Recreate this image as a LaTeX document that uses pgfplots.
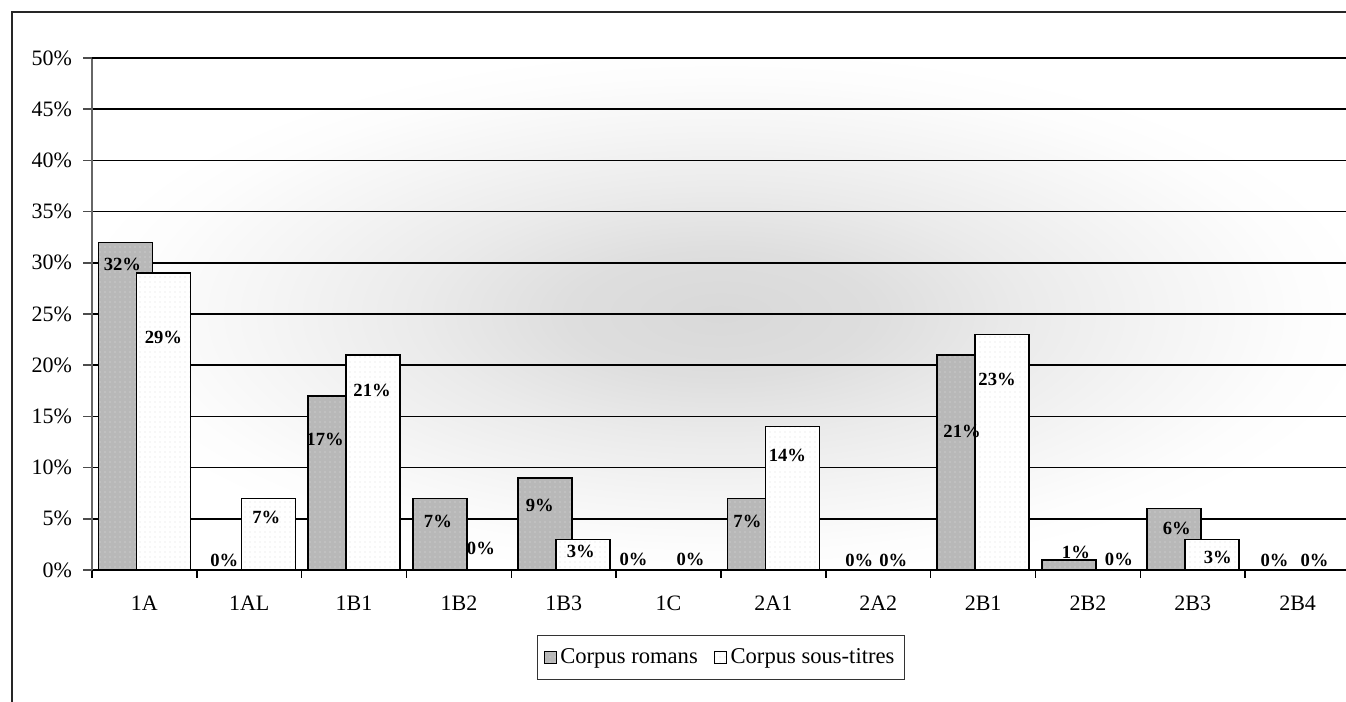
\documentclass[border=0pt]{standalone}
\usepackage{fontspec}
\setmainfont{Liberation Serif}
\usepackage{pgfplots}
\pgfplotsset{compat=1.18}
\usepackage{pgfplotstable}
\usetikzlibrary{patterns.meta}

\pgfdeclareradialshading{bgshade}{\pgfpoint{0bp}{0bp}}{color(0bp)=(black!15); color(6bp)=(black!13); color(12bp)=(black!8); color(18bp)=(black!4); color(23bp)=(black!1); color(26bp)=(white); color(50bp)=(white)}

\pgfplotstableread{
x y dx dy
0 32 -1.5 -11
1 0 -3 5
2 17 -5 -22
3 7 -1 -11.5
4 9 -2.5 -14
5 0 -8 5.5
6 7 -3.5 -11.5
7 0 0 5
8 21 -1 -38
9 1 3.5 3.5
10 6 1.5 -10
11 0 -2 5
}\romans

\pgfplotstableread{
x y dx dy
0 29 0 -32
1 7 -1 -9.5
2 21 -0.5 -17.5
3 0 1.5 11
4 3 -1 -6
5 0 1.5 5.5
6 14 -2.5 -14.5
7 0 -2 5
8 23 -2.5 -22.5
9 0 6 5.5
10 3 3 -9
11 0 -1 5
}\soustitres

\begin{document}
\begin{tikzpicture}
\useasboundingbox (0,0) rectangle (673pt,351pt);
\clip (0,0) rectangle (673pt,351pt);
\draw[line width=1pt, black!85] (6pt,-5pt) -- (6pt,345pt) -- (680pt,345pt);
\begin{axis}[
  at={(46pt,66pt)}, anchor=south west,
  scale only axis, width=629pt, height=256pt,
  xmin=-0.5, xmax=11.5, ymin=0, ymax=50,
  axis x line*=bottom, axis y line*=left,
  x axis line style={-, black, line width=0.75pt},
  y axis line style={-, black!60, line width=0.75pt},
  axis background/.style={shading=bgshade},
  ybar, bar width=27pt,
  xtick={0,...,11},
  xticklabels={1A,1AL,1B1,1B2,1B3,1C,2A1,2A2,2B1,2B2,2B3,2B4},
  major x tick style={draw=none},
  minor xtick={-0.5,0.5,...,11.5},
  minor x tick style={black, line width=0.75pt},
  ytick={0,5,...,45},
  yticklabels={0\%,5\%,10\%,15\%,20\%,25\%,30\%,35\%,40\%,45\%},
  extra y ticks={50},
  extra y tick labels={50\%},
  extra y tick style={grid style={black!35, line width=0.75pt}},
  y tick style={black!70, line width=0.75pt},
  tick align=outside, major tick length=4.5pt, minor tick length=4pt,
  ymajorgrids, major grid style={black, line width=0.75pt},
  xticklabel style={yshift=-5pt, font=\fontsize{11}{13}\selectfont},
  yticklabel style={xshift=-2pt, font=\fontsize{11}{13}\selectfont},
  legend style={at={(0.5,-0.17)}, anchor=center, legend columns=2, draw=black!80, line width=0.5pt,
    font=\fontsize{11.3}{13}\selectfont, /tikz/every even column/.append style={column sep=6pt},
    inner xsep=3pt, inner ysep=4.5pt},
  legend image code/.code={\draw[#1, line width=0.4pt] (0pt,-3pt) rectangle (6pt,3pt);},
  lbl/.style={
    nodes near coords={\pgfmathprintnumber[assume math mode=true]{\pgfplotspointmeta}\%},
    nodes near coords align=center,
    visualization depends on={\thisrow{dx} \as \dx},
    visualization depends on={\thisrow{dy} \as \dy},
    every node near coord/.append style={font=\bfseries\fontsize{9.3}{11}\selectfont, anchor=center, xshift={\dx*1pt}, yshift={\dy*1pt}, text=black}},
]
\addplot[bar shift=-9.5pt, draw=black, line width=0.75pt, fill=black!28,
  postaction={pattern={Dots[distance=2.5pt,radius=0.3pt]}, pattern color=black!14}, lbl]
  table[x=x,y=y]{\romans};
\addplot[bar shift=9.5pt, draw=black, line width=0.75pt, fill=white,
  postaction={pattern={Dots[distance=2.5pt,radius=0.3pt]}, pattern color=black!12}, lbl]
  table[x=x,y=y]{\soustitres};
\legend{Corpus romans, Corpus sous-titres}
\end{axis}
\end{tikzpicture}
\end{document}
